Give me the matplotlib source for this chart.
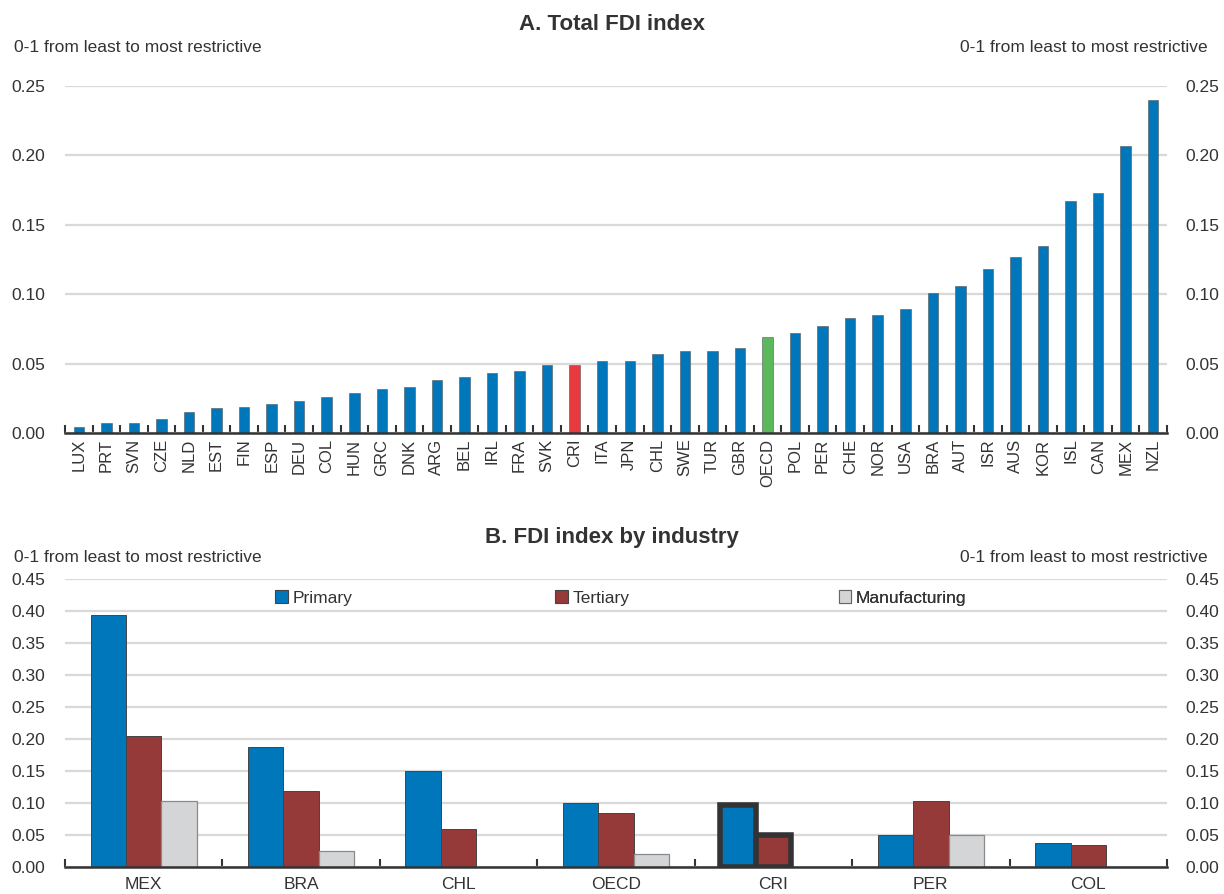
import matplotlib
matplotlib.use("Agg")
import matplotlib.pyplot as plt
import numpy as np
from matplotlib.patches import Patch

# ---------------- data ----------------
countries_a = ["LUX", "PRT", "SVN", "CZE", "NLD", "EST", "FIN", "ESP", "DEU", "COL",
               "HUN", "GRC", "DNK", "ARG", "BEL", "IRL", "FRA", "SVK", "CRI", "ITA",
               "JPN", "CHL", "SWE", "TUR", "GBR", "OECD", "POL", "PER", "CHE", "NOR",
               "USA", "BRA", "AUT", "ISR", "AUS", "KOR", "ISL", "CAN", "MEX", "NZL"]
total_fdi = [0.004, 0.007, 0.007, 0.010, 0.015, 0.018, 0.019, 0.021, 0.023, 0.026,
             0.029, 0.032, 0.033, 0.038, 0.040, 0.043, 0.045, 0.049, 0.049, 0.052,
             0.052, 0.057, 0.059, 0.059, 0.061, 0.069, 0.072, 0.077, 0.083, 0.085,
             0.089, 0.101, 0.106, 0.118, 0.127, 0.135, 0.167, 0.173, 0.207, 0.240]

countries_b = ["MEX", "BRA", "CHL", "OECD", "CRI", "PER", "COL"]
primary = [0.393, 0.187, 0.150, 0.100, 0.097, 0.050, 0.037]
tertiary = [0.205, 0.118, 0.060, 0.085, 0.050, 0.103, 0.034]
manufacturing = [0.103, 0.025, np.nan, 0.020, np.nan, 0.050, np.nan]

# ---------------- style ----------------
FONT = ["Liberation Sans", "DejaVu Sans"]
TXT = "#333333"
BLUE = "#0077BB"
RED = "#E8393F"
GREEN = "#5CB85C"
MAROON = "#963939"
LGRAY = "#D4D5D7"
GRID = "#D9D9D9"
FS = 12.5

plt.rcParams["font.family"] = FONT
plt.rcParams["text.color"] = TXT
plt.rcParams["axes.labelcolor"] = TXT
plt.rcParams["xtick.color"] = TXT
plt.rcParams["ytick.color"] = TXT

fig = plt.figure(figsize=(12.24, 8.94), dpi=100)

L, R = 65 / 1224, 1167 / 1224
axA = fig.add_axes([L, 1 - 433 / 894, R - L, (433 - 86) / 894])
axB = fig.add_axes([L, 1 - 867 / 894, R - L, (867 - 579) / 894])


def style_axes(ax, ylim, yticks):
    ax.set_ylim(*ylim)
    ax.set_yticks(yticks)
    ax.set_yticklabels([f"{v:.2f}" for v in yticks], fontsize=FS)
    ax.grid(axis="y", color=GRID, linewidth=1.6, zorder=0)
    ax.set_axisbelow(True)
    for s in ["top", "left", "right"]:
        ax.spines[s].set_visible(False)
    ax.spines["bottom"].set_color("#333333")
    ax.spines["bottom"].set_linewidth(1.8)
    ax.spines["bottom"].set_zorder(5)
    ax.tick_params(axis="y", length=0, pad=14)
    ax2 = ax.twinx()
    ax2.set_ylim(*ylim)
    ax2.set_yticks(yticks)
    ax2.set_yticklabels([f"{v:.2f}" for v in yticks], fontsize=FS)
    ax2.tick_params(axis="y", length=0, pad=13)
    for s in ["top", "left", "right", "bottom"]:
        ax2.spines[s].set_visible(False)
    return ax2


# ---------------- Panel A ----------------
xa = np.arange(len(countries_a))
colors_a = []
for c in countries_a:
    if c == "CRI":
        colors_a.append(RED)
    elif c == "OECD":
        colors_a.append(GREEN)
    else:
        colors_a.append(BLUE)
axA.bar(xa, total_fdi, width=0.38, color=colors_a, edgecolor="#555555",
        linewidth=0.4, zorder=3)
axA.set_xlim(-0.5, len(countries_a) - 0.5)
axA.set_xticks(xa)
axA.set_xticklabels(countries_a, rotation=90, fontsize=12)
axA.tick_params(axis="x", which="major", length=0, pad=4)
axA.set_xticks(np.arange(-0.5, len(countries_a), 1.0), minor=True)
axA.tick_params(axis="x", which="minor", direction="in", length=6, width=1.5,
                color="#333333")
style_axes(axA, (0, 0.25), np.arange(0, 0.251, 0.05))

fig.text(0.5, 1 - 25 / 894, "A. Total FDI index", ha="center", va="center",
         fontsize=16, fontweight="bold")
fig.text(14 / 1224, 1 - 48 / 894, "0-1 from least to most restrictive",
         ha="left", va="center", fontsize=FS)
fig.text(1208 / 1224, 1 - 48 / 894, "0-1 from least to most restrictive",
         ha="right", va="center", fontsize=FS)

# ---------------- Panel B ----------------
xb = np.arange(len(countries_b))
w = 0.225
bp = axB.bar(xb - w, primary, width=w, color=BLUE, edgecolor="#444444",
             linewidth=0.7, zorder=3, label="Primary")
bt = axB.bar(xb, tertiary, width=w, color=MAROON, edgecolor="#444444",
             linewidth=0.7, zorder=3, label="Tertiary")
bm = axB.bar(xb + w, manufacturing, width=w, color=LGRAY, edgecolor="#8A8A8A",
             linewidth=0.9, zorder=3, label="Manufacturing")
# highlight CRI
icri = countries_b.index("CRI")
for container in (bp, bt):
    rect = container[icri]
    rect.set_edgecolor("#333333")
    rect.set_linewidth(4)
    rect.set_zorder(4)

axB.set_xlim(-0.5, len(countries_b) - 0.5)
axB.set_xticks(xb)
axB.set_xticklabels(countries_b, fontsize=FS)
axB.tick_params(axis="x", which="major", length=0, pad=7)
axB.set_xticks(np.arange(-0.5, len(countries_b), 1.0), minor=True)
axB.tick_params(axis="x", which="minor", direction="in", length=6, width=1.5,
                color="#333333")
style_axes(axB, (0, 0.45), np.arange(0, 0.451, 0.05))

legend_items = [
    (Patch(facecolor=BLUE, edgecolor="#444444", linewidth=0.8), "Primary", 0.191),
    (Patch(facecolor=MAROON, edgecolor="#444444", linewidth=0.8), "Tertiary", 0.445),
    (Patch(facecolor=LGRAY, edgecolor="#666666", linewidth=0.8), "Manufacturing", 0.702),
]
for h, lab, xpos in legend_items:
    leg = axB.legend(handles=[h], labels=[lab], loc="center left",
                     bbox_to_anchor=(xpos, 0.934), frameon=False,
                     handlelength=0.7, handleheight=0.7,
                     handletextpad=0.3, borderaxespad=0, borderpad=0,
                     prop={"size": FS})
    axB.add_artist(leg)

fig.text(0.5, 1 - 537 / 894, "B. FDI index by industry", ha="center",
         va="center", fontsize=16, fontweight="bold")
fig.text(14 / 1224, 1 - 557 / 894, "0-1 from least to most restrictive",
         ha="left", va="center", fontsize=FS)
fig.text(1208 / 1224, 1 - 557 / 894, "0-1 from least to most restrictive",
         ha="right", va="center", fontsize=FS)

fig.savefig("out.png", dpi=100)
